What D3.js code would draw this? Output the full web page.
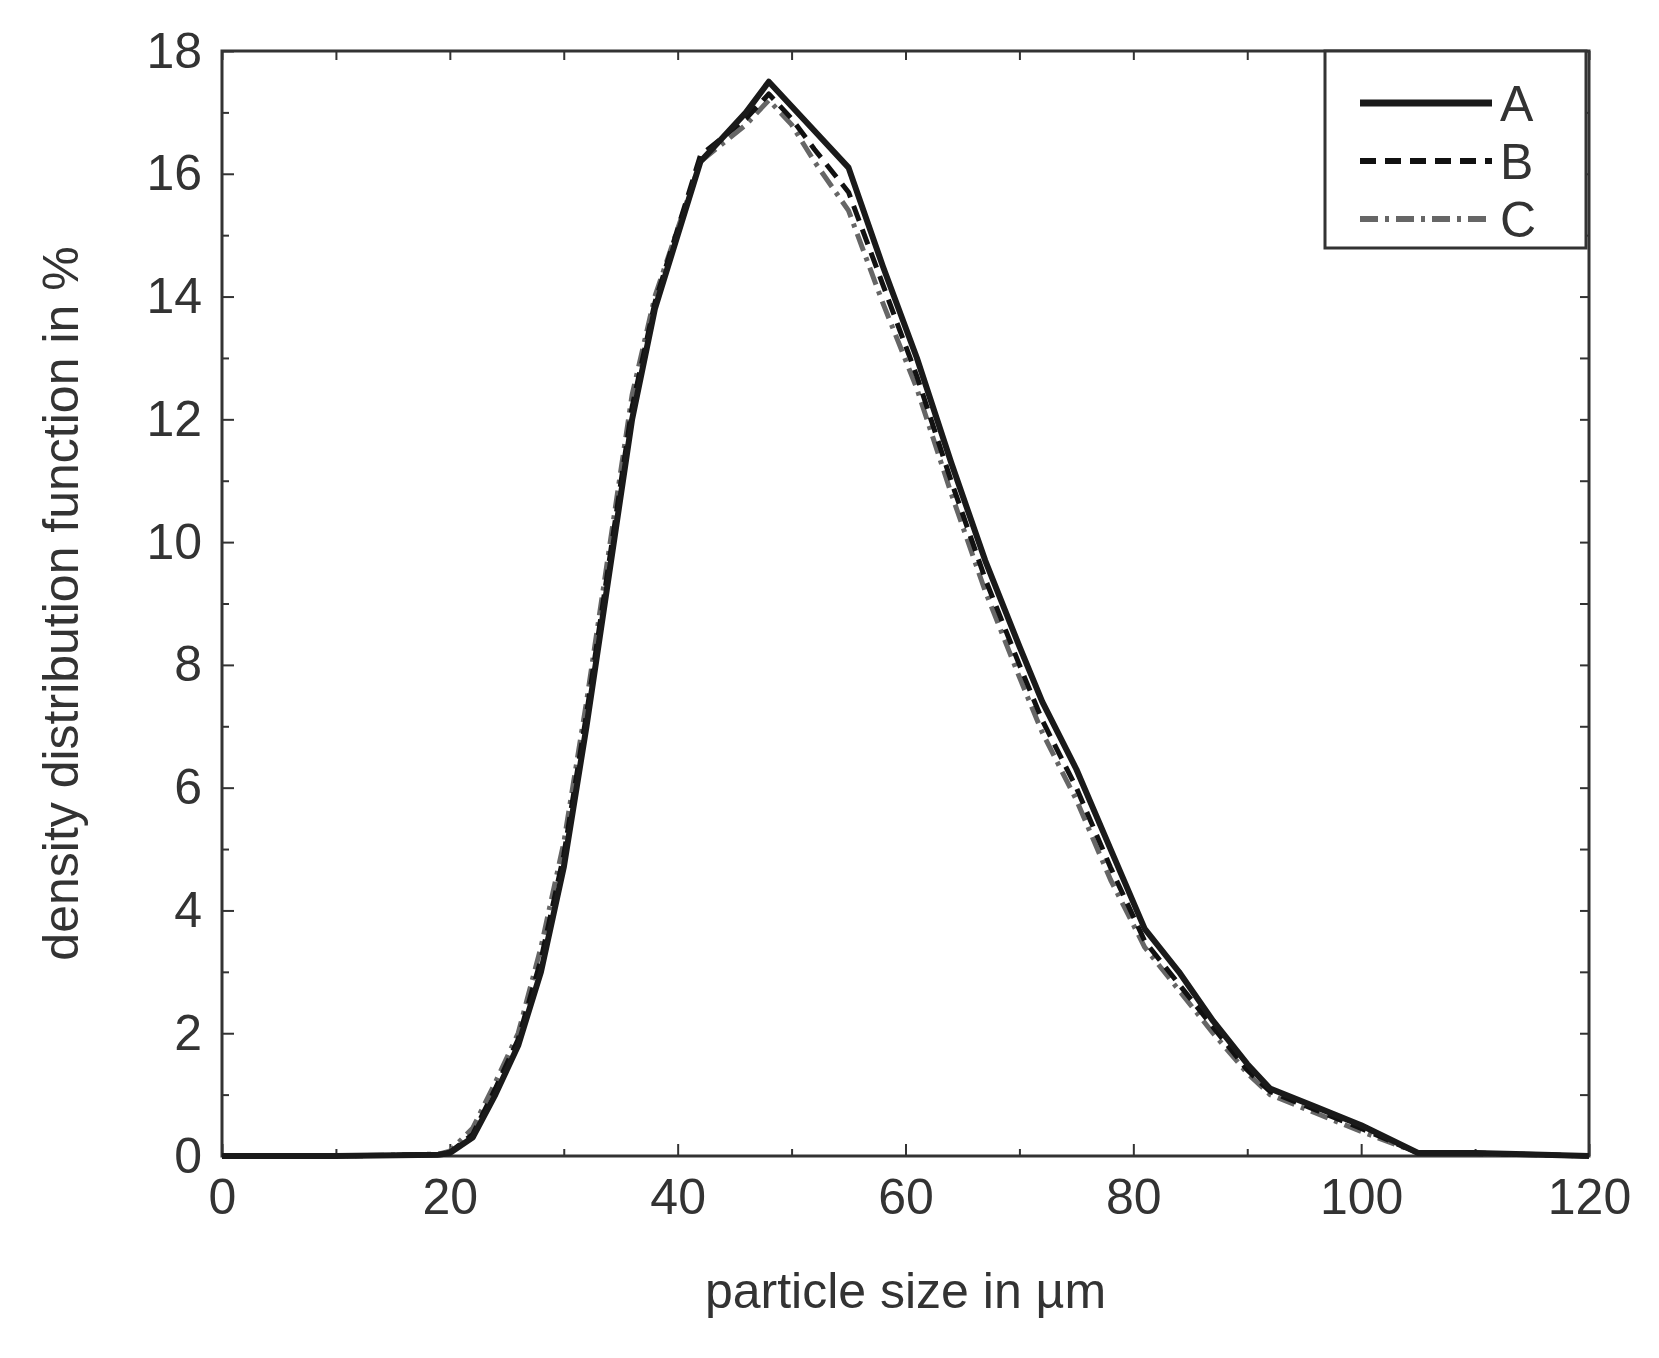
<!DOCTYPE html>
<html><head><meta charset="utf-8">
<script src="https://cdn.jsdelivr.net/npm/d3@7"></script>
<style>body{margin:0;background:#fff}text{font-family:"Liberation Sans",Arial,sans-serif;fill:#333}</style>
</head><body><svg id="c" width="1659" height="1358"></svg>
<script>
const sizes = [0,10,19,20,22,24,26,28,30,32,34,36,38,40,42,44,46,48,50,52,55,58,61,64,67,70,72,75,78,81,84,87,90,92,96,100,105,110,120];
const seriesA = [0,0,0.02,0.05,0.3,1,1.8,3,4.7,7,9.5,12,13.8,15,16.2,16.6,17,17.5,17.1,16.7,16.1,14.5,13,11.3,9.7,8.3,7.4,6.3,5,3.7,3,2.2,1.5,1.1,0.8,0.5,0.05,0.05,0];
const seriesB = [0,0,0.02,0.06,0.35,1.1,1.9,3.2,4.9,7.2,9.7,12.2,13.9,15.1,16.3,16.6,16.9,17.3,16.9,16.4,15.7,14.2,12.7,11,9.4,8,7.1,6,4.7,3.5,2.8,2.1,1.4,1.05,0.75,0.45,0.05,0.05,0];
const seriesC = [0,0,0.03,0.08,0.45,1.2,2,3.4,5.1,7.4,9.9,12.4,14,15.1,16.2,16.5,16.8,17.2,16.8,16.2,15.4,13.9,12.5,10.8,9.2,7.8,6.9,5.8,4.5,3.4,2.7,2,1.35,1,0.7,0.4,0.05,0.04,0];
const names = ["A","B","C"];
const xTicks = [0,20,40,60,80,100,120];
const yTicks = [0,2,4,6,8,10,12,14,16,18];

const svg = d3.select("#c");
const L=222,R=1589,T=51,B=1156;
const x = d3.scaleLinear().domain([0,120]).range([L,R]);
const y = d3.scaleLinear().domain([0,18]).range([B,T]);
const g = svg.append("g");
const ax = (a)=>a.attr("font-size",50).call(s=>s.selectAll("path").attr("stroke","#333").attr("stroke-width",3)).call(s=>s.selectAll("line").attr("stroke","#333").attr("stroke-width",2));

g.append("g").attr("transform",`translate(0,${B})`).call(d3.axisBottom(x).tickValues(xTicks).tickSize(-12).tickPadding(22).tickSizeOuter(0)).call(ax);
g.append("g").attr("transform",`translate(0,${B})`).call(d3.axisBottom(x).tickValues(d3.range(10,120,20)).tickSize(-7).tickFormat("").tickSizeOuter(0)).call(ax);
g.append("g").attr("transform",`translate(0,${T})`).call(d3.axisTop(x).tickValues(d3.range(0,121,10)).tickSize(-9).tickFormat("").tickSizeOuter(0)).call(ax);
g.append("g").attr("transform",`translate(${L},0)`).call(d3.axisLeft(y).tickValues(yTicks).tickSize(-12).tickPadding(20).tickSizeOuter(0)).call(ax);
g.append("g").attr("transform",`translate(${L},0)`).call(d3.axisLeft(y).tickValues(d3.range(1,18,2)).tickSize(-7).tickFormat("").tickSizeOuter(0)).call(ax);
g.append("g").attr("transform",`translate(${R},0)`).call(d3.axisRight(y).tickValues(d3.range(0,19,1)).tickSize(-9).tickFormat("").tickSizeOuter(0)).call(ax);
g.selectAll(".domain").remove();
svg.append("rect").attr("x",L).attr("y",T).attr("width",R-L).attr("height",B-T).attr("fill","none").attr("stroke","#333").attr("stroke-width",3);

const styles = [
  {c:"#1a1a1a",d:null,w:6},
  {c:"#111",d:"16,9",w:5},
  {c:"#666",d:"18,7,4,7",w:5}
];
const line = d3.line().x((d,i)=>x(sizes[i])).y(d=>y(d));
[seriesC,seriesB,seriesA].forEach((s,k)=>{
  const st = styles[2-k];
  svg.append("path").datum(s).attr("d",line).attr("fill","none").attr("stroke",st.c).attr("stroke-width",st.w).attr("stroke-dasharray",st.d).attr("stroke-linejoin","round");
});

const lg = svg.append("g");
lg.append("rect").attr("x",1325).attr("y",T).attr("width",261).attr("height",197).attr("fill","#fff").attr("stroke","#333").attr("stroke-width",3);
names.forEach((n,i)=>{
  const yy = 103+i*58;
  lg.append("line").attr("x1",1360).attr("x2",1492).attr("y1",yy).attr("y2",yy).attr("stroke",styles[i].c).attr("stroke-width",styles[i].w+1).attr("stroke-dasharray",styles[i].d);
  lg.append("text").attr("x",1500).attr("y",yy+18).attr("font-size",50).text(n);
});

svg.append("text").attr("x",(L+R)/2).attr("y",1308).attr("text-anchor","middle").attr("font-size",50).text("particle size in µm");
svg.append("text").attr("transform",`translate(78,${(T+B)/2}) rotate(-90)`).attr("text-anchor","middle").attr("font-size",50).text("density distribution function in %");
</script></body></html>
